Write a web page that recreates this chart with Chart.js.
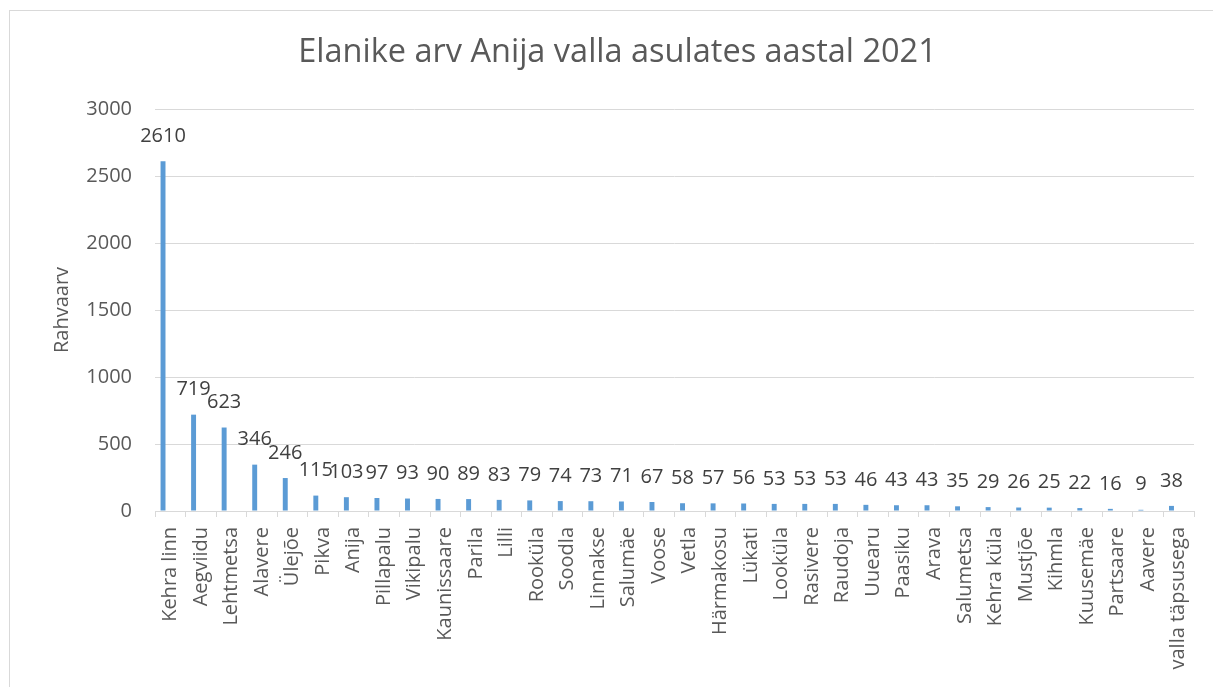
<!DOCTYPE html>
<html lang="et">
<head>
<meta charset="utf-8">
<title>Elanike arv Anija valla asulates aastal 2021</title>
<script src="https://cdn.jsdelivr.net/npm/chart.js@4"></script>
<style>
  html, body { margin: 0; padding: 0; background: #ffffff; }
  #wrap { position: relative; width: 1213px; height: 687px; }
</style>
</head>
<body>
<div id="wrap"><canvas id="graafik" width="1213" height="687"></canvas></div>
<script>
// Andmed: asulad ja rahvaarv
const asulad = ['Kehra linn', 'Aegviidu', 'Lehtmetsa', 'Alavere', 'Ülejõe', 'Pikva', 'Anija', 'Pillapalu',
  'Vikipalu', 'Kaunissaare', 'Parila', 'Lilli', 'Rooküla', 'Soodla', 'Linnakse', 'Salumäe', 'Voose', 'Vetla',
  'Härmakosu', 'Lükati', 'Looküla', 'Rasivere', 'Raudoja', 'Uuearu', 'Paasiku', 'Arava', 'Salumetsa',
  'Kehra küla', 'Mustjõe', 'Kihmla', 'Kuusemäe', 'Partsaare', 'Aavere', 'valla täpsusega'];
const rahvaarv = [2610, 719, 623, 346, 246, 115, 103, 97, 93, 90, 89, 83, 79, 74, 73, 71, 67, 58,
  57, 56, 53, 53, 53, 46, 43, 43, 35, 29, 26, 25, 22, 16, 9, 38];
const yTikid = [0, 500, 1000, 1500, 2000, 2500, 3000];

const pealkiri = 'Elanike arv Anija valla asulates aastal 2021';
const teljeNimi = 'Rahvaarv';

// Raam ümber diagrammi (nagu Exceli diagrammil)
const raamPlugin = {
  id: 'raam',
  beforeDraw(chart) {
    const c = chart.ctx;
    c.save();
    c.strokeStyle = '#d9d9d9';
    c.lineWidth = 1;
    c.strokeRect(9.5, 10.5, 1400, 1000);
    c.restore();
  }
};

// Väärtuste sildid tulpade kohal
const siltPlugin = {
  id: 'sildid',
  afterDatasetsDraw(chart) {
    const c = chart.ctx;
    const meta = chart.getDatasetMeta(0);
    c.save();
    c.font = '20px "Open Sans"';
    c.fillStyle = '#404040';
    c.textAlign = 'center';
    c.textBaseline = 'middle';
    meta.data.forEach((bar, i) => {
      c.fillText(String(rahvaarv[i]), bar.x, bar.y - 25);
    });
    c.restore();
  }
};

new Chart(document.getElementById('graafik'), {
  type: 'bar',
  data: {
    labels: asulad,
    datasets: [
      {
        label: teljeNimi,
        data: rahvaarv,
        backgroundColor: '#5B9BD5',
        barPercentage: 0.34,
        categoryPercentage: 0.95
      },
      {
        // tühi teine seeria, mis nihutab tulbad vasakule nagu originaalis
        label: '',
        data: asulad.map(() => null),
        backgroundColor: 'rgba(0,0,0,0)',
        barPercentage: 0.34,
        categoryPercentage: 0.95
      }
    ]
  },
  options: {
    responsive: false,
    animation: false,
    layout: { padding: { left: 40, right: 18, top: 0, bottom: 0 } },
    plugins: {
      legend: { display: false },
      tooltip: { enabled: false },
      title: {
        display: true,
        text: pealkiri,
        color: '#595959',
        font: { family: 'Open Sans', size: 32.5, weight: 'normal', lineHeight: 1.2 },
        padding: { top: 33, bottom: 37 }
      }
    },
    scales: {
      x: {
        grid: {
          offset: true,
          drawOnChartArea: false,
          drawTicks: true,
          tickLength: 6,
          color: '#d9d9d9'
        },
        border: { display: true, color: '#d9d9d9' },
        ticks: {
          autoSkip: false,
          minRotation: 90,
          maxRotation: 90,
          padding: 10,
          color: '#595959',
          font: { family: 'Open Sans', size: 20 }
        },
        afterFit(scale) { scale.height = 176; }
      },
      y: {
        min: 0,
        max: 3000,
        afterBuildTicks(scale) { scale.ticks = yTikid.map(v => ({ value: v })); },
        grid: { color: '#d9d9d9', drawTicks: false },
        border: { display: false },
        ticks: {
          padding: 23,
          color: '#595959',
          font: { family: 'Open Sans', size: 20 },
          callback: (v) => String(v)
        },
        title: {
          display: true,
          text: teljeNimi,
          color: '#595959',
          font: { family: 'Open Sans', size: 20, lineHeight: 1.2 },
          padding: { top: 10, bottom: 0 }
        },
        afterFit(scale) { scale.width = 115; }
      }
    }
  },
  plugins: [raamPlugin, siltPlugin]
});
</script>
</body>
</html>
